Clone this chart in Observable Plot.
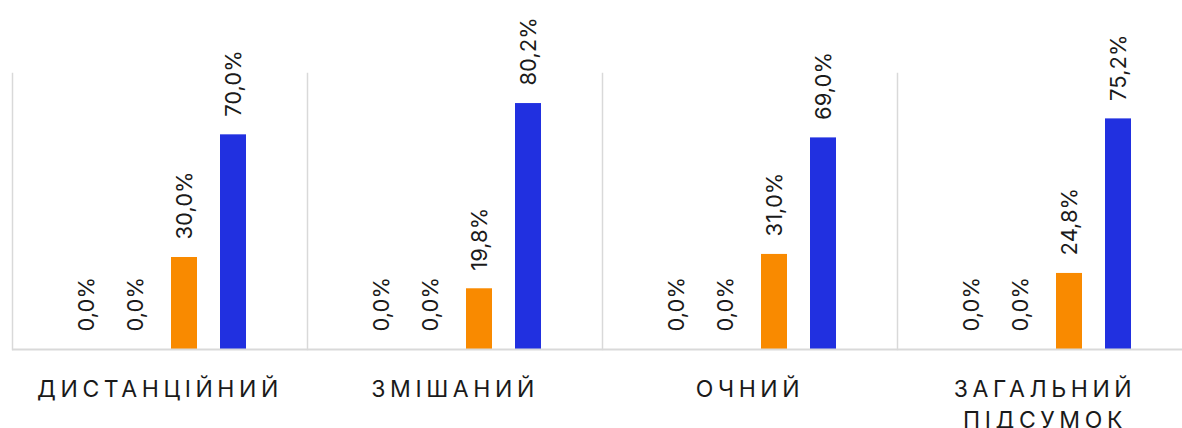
<!DOCTYPE html>
<html>
<head>
<meta charset="utf-8">
<script src="https://cdn.jsdelivr.net/npm/d3@7"></script>
<script src="https://cdn.jsdelivr.net/npm/@observablehq/plot@0.6"></script>
<style>
  html, body { margin: 0; padding: 0; background: #fff; overflow: hidden; }
  #chart { width: 1182px; height: 428px; overflow: hidden; }
  #chart svg { max-width: none !important; }
  g[aria-label="fx-axis tick label"] text { letter-spacing: 4.6px; }
</style>
</head>
<body>
<div id="chart"></div>
<script>
const categories = ["ДИСТАНЦІЙНИЙ", "ЗМІШАНИЙ", "ОЧНИЙ", "ЗАГАЛЬНИЙ\nПІДСУМОК"];
const series = ["s1", "s2", "s3", "s4"];
const s1Values = [0.0, 0.0, 0.0, 0.0];
const s2Values = [0.0, 0.0, 0.0, 0.0];
const s3Values = [30.0, 19.8, 31.0, 24.8];
const s4Values = [70.0, 80.2, 69.0, 75.2];
const seriesColors = ["#999999", "#666666", "#F98A00", "#2130E0"];

const allValues = [s1Values, s2Values, s3Values, s4Values];
const data = [];
categories.forEach((c, i) => {
  series.forEach((s, j) => data.push({category: c, series: s, value: allValues[j][i]}));
});
const fmt = v => d3.format(".1f")(v).replace(".", ",") + "%";

const chart = Plot.plot({
  width: 1193,
  height: 428,
  marginLeft: 11,
  marginRight: 0,
  marginTop: 73,
  marginBottom: 79,
  style: {fontFamily: "Inter, sans-serif", color: "#1a1a1a", background: "#fff", maxWidth: "none"},
  fx: {domain: categories, padding: 0, label: null},
  x: {domain: series, axis: null, paddingInner: 0.46, paddingOuter: 1.185},
  y: {domain: [0, 90], axis: null},
  color: {domain: series, range: seriesColors},
  marks: [
    Plot.frame({anchor: "left", stroke: "#d9d9d9", strokeWidth: 1.5}),
    Plot.barY(data, {fx: "category", x: "series", y: "value", fill: "series"}),
    Plot.ruleY([0], {stroke: "#d9d9d9", strokeWidth: 2}),
    Plot.text(data, {fx: "category", x: "series", y: "value", text: d => fmt(d.value),
      rotate: -90, textAnchor: "start", dy: -18, fontSize: 22, fill: "#1a1a1a"}),
    Plot.axisFx({anchor: "bottom", tickSize: 0, tickPadding: 25, fontSize: 23, lineHeight: 1.35, label: null, fill: "#1a1a1a"})
  ]
});
document.getElementById("chart").appendChild(chart);
</script>
</body>
</html>
